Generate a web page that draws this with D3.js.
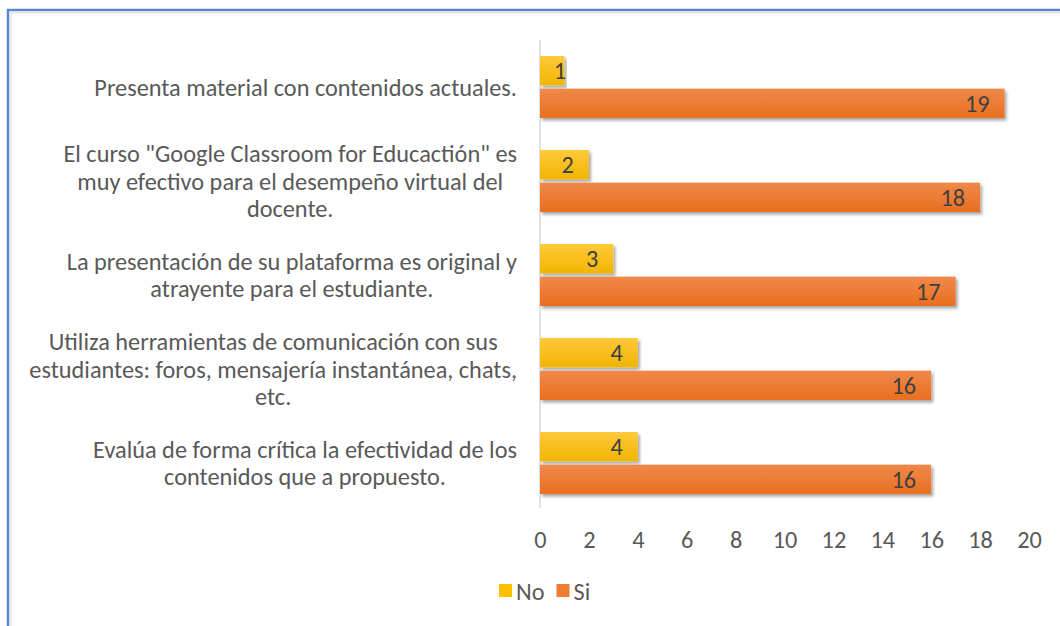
<!DOCTYPE html>
<html>
<head>
<meta charset="utf-8">
<script src="https://cdn.jsdelivr.net/npm/d3@7"></script>
<style>
  html, body { margin: 0; padding: 0; background: #fff; }
  svg { display: block; }
</style>
</head>
<body>
<div id="chart"></div>
<script>
// categories, top to bottom, split into their wrapped lines
const categories = [
  ["Presenta material con contenidos actuales."],
  ["El curso \"Google Classroom for Educactión\" es", "muy efectivo para el desempeño virtual del", "docente."],
  ["La presentación de su plataforma es original y", "atrayente para el estudiante."],
  ["Utiliza herramientas de comunicación con sus", "estudiantes: foros, mensajería instantánea, chats,", "etc."],
  ["Evalúa de forma crítica la efectividad de los", "contenidos que a propuesto."]
];
const seriesNames = ["No", "Si"];
const noValues = [1, 2, 3, 4, 4];
const siValues = [19, 18, 17, 16, 16];
const xTicks = [0, 2, 4, 6, 8, 10, 12, 14, 16, 18, 20];

const width = 1060, height = 626;
const margin = {top: 40, left: 540, right: 31, bottom: 116};
const fontFamily = "'Carlito', 'Calibri', 'Open Sans', sans-serif";
const textColor = "#595959";
const colors = {No: "#FFC000", Si: "#ED7D31"};

const svg = d3.select("#chart").append("svg")
  .attr("width", width)
  .attr("height", height);

// pick a font size so the first label has the same width as in the picture
const probe = svg.append("text")
  .style("font-family", fontFamily)
  .style("font-size", "22px")
  .text(categories[0][0]);
const fontSize = 22 * 423 / probe.node().getComputedTextLength();
probe.remove();

const defs = svg.append("defs");
const shadow = defs.append("filter").attr("id", "shadow")
  .attr("x", "-5%").attr("y", "-20%").attr("width", "115%").attr("height", "160%");
shadow.append("feDropShadow")
  .attr("dx", 2).attr("dy", 2.5).attr("stdDeviation", 1.8)
  .attr("flood-color", "#000").attr("flood-opacity", 0.35);

const grad = (id, top, bottom) => {
  const g = defs.append("linearGradient").attr("id", id)
    .attr("x1", 0).attr("y1", 0).attr("x2", 0).attr("y2", 1);
  g.append("stop").attr("offset", "0%").attr("stop-color", top);
  g.append("stop").attr("offset", "100%").attr("stop-color", bottom);
};
grad("gNo", "#FFC93C", "#F2B500");
grad("gSi", "#F0894A", "#E96F1F");

// outer frame
svg.append("rect")
  .attr("x", 8).attr("y", 10)
  .attr("width", width + 20).attr("height", height + 20)
  .attr("fill", "#fff")
  .attr("stroke", "#5B84D1")
  .attr("stroke-width", 2.5);
svg.append("rect")
  .attr("x", 10.5).attr("y", 12.5)
  .attr("width", width + 20).attr("height", height + 20)
  .attr("fill", "none")
  .attr("stroke", "#e4e4e4")
  .attr("stroke-width", 2);

const x = d3.scaleLinear()
  .domain([0, 20])
  .range([margin.left, width - margin.right]);

const y = d3.scaleBand()
  .domain(d3.range(categories.length))
  .range([margin.top, height - margin.bottom]);

const inner = d3.scaleBand()
  .domain(seriesNames)
  .range([y.bandwidth() / 2 - 31, y.bandwidth() / 2 + 31])
  .paddingInner(0.1);

// vertical axis line
svg.append("line")
  .attr("x1", x(0)).attr("x2", x(0))
  .attr("y1", y.range()[0]).attr("y2", y.range()[1] - 2)
  .attr("stroke", "#d9d9d9")
  .attr("stroke-width", 1.5);

// x axis labels
const xAxis = svg.append("g")
  .attr("transform", `translate(0, ${y.range()[1] + 21})`)
  .call(d3.axisBottom(x).tickValues(xTicks).tickSize(0).tickPadding(0));
xAxis.select(".domain").remove();
xAxis.selectAll("text")
  .attr("dy", "0.71em")
  .style("font-family", fontFamily)
  .style("font-size", fontSize + "px")
  .attr("fill", textColor);

// category labels, centred inside a block that is right aligned
const labelRight = 517;
const lineHeight = 27.5;
const labels = svg.append("g");
categories.forEach((lines, i) => {
  const g = labels.append("g");
  const t = g.append("text")
    .style("font-family", fontFamily)
    .style("font-size", fontSize + "px")
    .attr("fill", textColor)
    .attr("text-anchor", "middle");
  const cy = y(i) + y.bandwidth() / 2;
  const top = cy - (lines.length - 1) * lineHeight / 2;
  lines.forEach((l, j) => {
    t.append("tspan")
      .attr("y", top + j * lineHeight)
      .attr("dy", "0.35em")
      .text(l);
  });
  let maxW = 0;
  t.selectAll("tspan").each(function () {
    maxW = Math.max(maxW, this.getComputedTextLength());
  });
  t.selectAll("tspan").attr("x", labelRight - maxW / 2);
});

// bars
const rows = categories.map((c, i) => ({i, No: noValues[i], Si: siValues[i]}));
const groups = svg.append("g").selectAll("g")
  .data(rows)
  .join("g")
  .attr("transform", d => `translate(0, ${y(d.i)})`);

groups.selectAll("rect")
  .data(d => seriesNames.map(s => ({s, v: d[s]})))
  .join("rect")
  .attr("x", x(0))
  .attr("y", d => inner(d.s))
  .attr("width", d => x(d.v) - x(0))
  .attr("height", inner.bandwidth())
  .attr("fill", d => `url(#g${d.s})`)
  .attr("filter", "url(#shadow)");

groups.selectAll("text")
  .data(d => seriesNames.map(s => ({s, v: d[s]})))
  .join("text")
  .attr("x", d => Math.max(x(d.v) - 15, x(0) + 26))
  .attr("y", d => inner(d.s) + inner.bandwidth() / 2)
  .attr("dy", "0.36em")
  .attr("text-anchor", "end")
  .style("font-family", fontFamily)
  .style("font-size", fontSize + "px")
  .attr("fill", "#404040")
  .text(d => d.v);

// legend
const legend = svg.append("g").attr("transform", "translate(499, 591)");
let lx = 0;
seriesNames.forEach(s => {
  legend.append("rect")
    .attr("x", lx).attr("y", -7)
    .attr("width", 13).attr("height", 13)
    .attr("fill", colors[s]);
  const t = legend.append("text")
    .attr("x", lx + 17)
    .attr("dy", "0.35em")
    .style("font-family", fontFamily)
    .style("font-size", fontSize + "px")
    .attr("fill", textColor)
    .text(s);
  lx += 17 + t.node().getComputedTextLength() + 12;
});
</script>
</body>
</html>
